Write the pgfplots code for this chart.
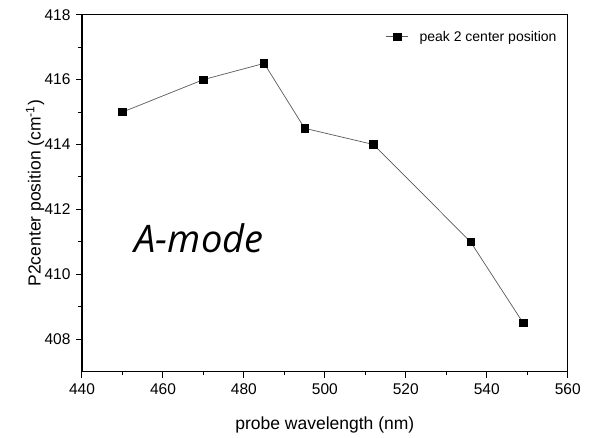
\documentclass[border=0pt]{standalone}
\usepackage{fontspec}
\setmainfont{Liberation Sans}
\newfontfamily\amodefont{Open Sans}
\usepackage{pgfplots}
\pgfplotsset{compat=1.18}
\begin{document}
\begin{tikzpicture}
\useasboundingbox (-82bp,-66.3bp) rectangle (512bp,371.7bp);
\begin{axis}[
  at={(0,0)}, anchor=south west,
  scale only axis,
  width=485.7bp, height=357bp,
  xmin=440, xmax=560, ymin=407, ymax=418,
  xtick={440,460,...,560},
  ytick={408,410,...,418},
  minor x tick num=1, minor y tick num=1,
  axis line style={line width=1.1bp, black},
  tick style={line width=1bp, black},
  major tick length=6bp, minor tick length=3.5bp,
  tick align=outside,
  xtick pos=bottom, ytick pos=left,
  /pgf/number format/assume math mode=true,
  /pgf/number format/1000 sep={},
  ticklabel style={font=\fontsize{15.5bp}{18bp}\selectfont},
  xticklabel style={yshift=-2bp},
  yticklabel style={xshift=-2bp},
  xlabel={probe wavelength (nm)},
  ylabel={P2center position (cm\textsuperscript{-1})},
  label style={font=\fontsize{17.5bp}{20bp}\selectfont},
  xlabel style={at={(axis description cs:0.5,-0.149)}, anchor=center},
  ylabel style={at={(axis description cs:-0.0968,0.5)}, anchor=center},
  legend style={draw=none, fill=none, at={(axis description cs:1,1)}, anchor=east,
    xshift=-6bp, yshift=-22bp, font=\fontsize{14bp}{16bp}\selectfont},
  legend cell align=left,
  legend image code/.code={\draw[#1, mark repeat=2, mark phase=2] plot coordinates {(0bp,0bp)(11bp,0bp)(22bp,0bp)}; \path (31bp,0bp);},
]
\addplot[color=black!65, line width=0.7bp, mark=square*, mark size=3.7bp,
  mark options={fill=black, draw=black, solid}]
  coordinates {(450,415) (470,416) (485,416.5) (495,414.5) (512,414) (536,411) (549,408.5)};
\addlegendentry{peak 2 center position}
\node[anchor=center, font=\amodefont\itshape\fontsize{38bp}{44bp}\selectfont] at (axis cs:468.9,411.1) {A-mode};
\end{axis}
\end{tikzpicture}
\end{document}
